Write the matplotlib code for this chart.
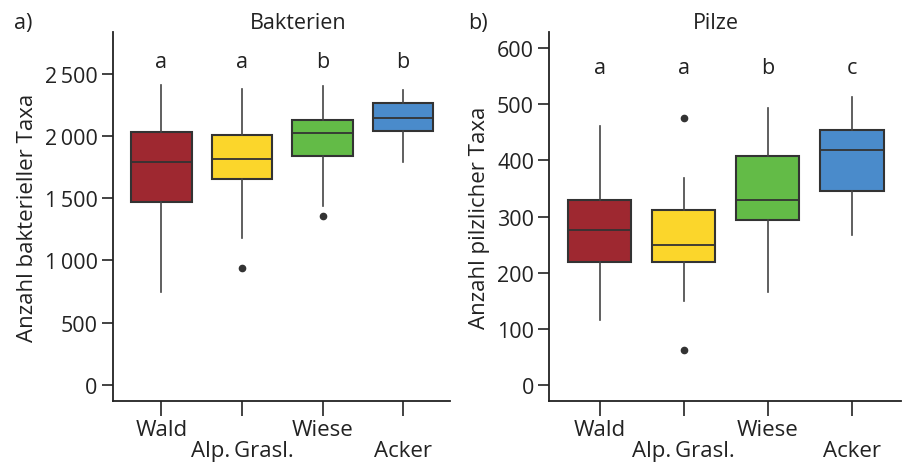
import matplotlib
matplotlib.use("Agg")
import matplotlib.pyplot as plt
from matplotlib.ticker import FuncFormatter

plt.rcParams['font.family'] = ['Open Sans', 'DejaVu Sans']

# categories and colours
gruppen = ['Wald', 'Alp.\u2009Grasl.', 'Wiese', 'Acker']
farben = ['#9e2830', '#fbd62b', '#63bb47', '#4a8bcb']

# Bakterien: whisker low, Q1, median, Q3, whisker high, outliers
bak_lo = [743, 1182, 1439, 1793]
bak_q1 = [1469, 1654, 1839, 2037]
bak_med = [1788, 1815, 2021, 2144]
bak_q3 = [2034, 2010, 2126, 2262]
bak_hi = [2407, 2375, 2404, 2367]
bak_out = [[], [936], [1356], []]
bak_letters = ['a', 'a', 'b', 'b']

# Pilze
pil_lo = [116, 149, 165, 267]
pil_q1 = [219, 218, 294, 346]
pil_med = [276, 250, 329, 418]
pil_q3 = [329, 312, 408, 454]
pil_hi = [461, 368, 494, 513]
pil_out = [[], [476, 62], [], []]
pil_letters = ['a', 'a', 'b', 'c']

dunkel = '#333333'

fig = plt.figure(figsize=(9.02, 4.64), dpi=100)
ax1 = fig.add_axes([0.1253, 0.1336, 0.3736, 0.7953])
ax2 = fig.add_axes([0.609, 0.1336, 0.3896, 0.7953])


def stats(lo, q1, med, q3, hi, out):
    return [dict(whislo=lo[i], q1=q1[i], med=med[i], q3=q3[i], whishi=hi[i],
                 fliers=out[i]) for i in range(len(lo))]


def panel(ax, st, letters, ylim, yticks, letter_y, ylabel, title, title_x, tag, tag_x, fmt):
    bp = ax.bxp(st, positions=range(4), widths=0.75, patch_artist=True,
                showcaps=False,
                boxprops=dict(edgecolor=dunkel, linewidth=1.5),
                medianprops=dict(color=dunkel, linewidth=1.3),
                whiskerprops=dict(color='#444444', linewidth=1.2),
                flierprops=dict(marker='o', markersize=4.5, markerfacecolor=dunkel,
                                markeredgecolor=dunkel))
    for patch, c in zip(bp['boxes'], farben):
        patch.set_facecolor(c)
    ax.set_ylim(*ylim)
    ax.set_xlim(-0.6, 3.58)
    ax.set_yticks(yticks)
    ax.yaxis.set_major_formatter(FuncFormatter(fmt))
    ax.set_xticks(range(4))
    ax.set_xticklabels(gruppen, fontsize=16)
    for i, lab in enumerate(ax.get_xticklabels()):
        if i % 2 == 1:
            lab.set_y(-0.057)
    ax.tick_params(axis='y', labelsize=15.5)
    ax.tick_params(axis='both', colors='#222222', width=1.2, length=8, pad=3)
    ax.tick_params(axis='x', length=11, pad=2)
    ax.spines['top'].set_visible(False)
    ax.spines['right'].set_visible(False)
    for s in ('left', 'bottom'):
        ax.spines[s].set_linewidth(1.3)
        ax.spines[s].set_color('#222222')
    ax.set_ylabel(ylabel, fontsize=16, color='#222222', labelpad=5)
    for i, l in enumerate(letters):
        ax.text(i, letter_y, l, ha='center', va='center', fontsize=15.5,
                color='#222222')
    ax.text(title_x, 1.025, title, transform=ax.transAxes, ha='center',
            va='center', fontsize=15.5, color='#222222')
    ax.text(tag_x, 1.025, tag, transform=ax.transAxes, ha='left',
            va='center', fontsize=15.5, color='#222222')


def fmt_tausend(v, pos):
    s = f'{int(v):d}'
    if len(s) > 3:
        s = s[:-3] + '\u2009' + s[-3:]
    return s


panel(ax1, stats(bak_lo, bak_q1, bak_med, bak_q3, bak_hi, bak_out), bak_letters,
      (-131, 2836), [0, 500, 1000, 1500, 2000, 2500], 2602,
      'Anzahl bakterieller Taxa', 'Bakterien', 0.55, 'a)', -0.295, fmt_tausend)
panel(ax2, stats(pil_lo, pil_q1, pil_med, pil_q3, pil_hi, pil_out), pil_letters,
      (-29, 629), [0, 100, 200, 300, 400, 500, 600], 565,
      'Anzahl pilzlicher Taxa', 'Pilze', 0.475, 'b)', -0.23, fmt_tausend)

fig.savefig('out.png', dpi=100)
